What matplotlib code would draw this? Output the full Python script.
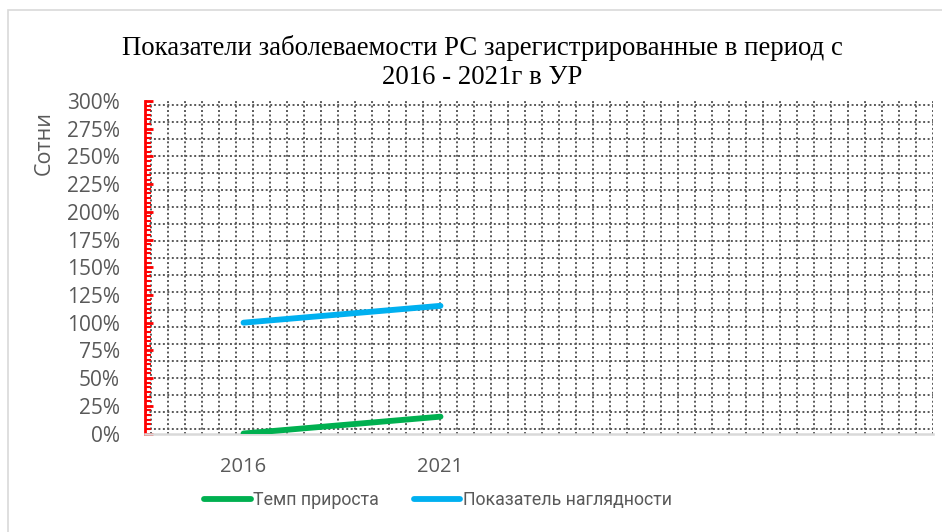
import numpy as np
import matplotlib.pyplot as plt
from matplotlib.patches import Rectangle
from matplotlib.ticker import MultipleLocator, FuncFormatter

years = ['2016', '2021']
growth = [0.0, 15.2]        # Темп прироста, %
visual = [100.0, 115.2]     # Показатель наглядности, %

title = 'Показатели заболеваемости РС зарегистрированные в период с\n2016 - 2021г в УР'
label_color = '#595959'
sans = ['Open Sans', 'DejaVu Sans']

fig = plt.figure(figsize=(9.42, 5.32), dpi=100)
# light frame round the chart area
fig.patches.append(Rectangle((8/942, -0.01), 0.995, 1 - 10/532 + 0.01, transform=fig.transFigure,
                             fill=False, edgecolor='#D9D9D9', lw=1.2))

ax = fig.add_axes([145/942, 1 - 433.5/532, 788/942, 332.5/532])
x = np.arange(len(years))
ax.set_xlim(-0.5, 3.5)
ax.set_ylim(0, 300)

# square dotted grid
gs = dict(color='#595959', lw=1.4, ls=(0, (1, 1.3)), zorder=1)
for gy in np.arange(4.06, 300, 15.4):
    ax.axhline(gy, **gs)
for gx in np.arange(-0.471, 3.5, 0.0863):
    ax.axvline(gx, **gs)

ax.plot(x, growth, color='#00B050', lw=4.2, solid_capstyle='round', zorder=3, label='Темп прироста')
ax.plot(x, visual, color='#00B0F0', lw=4.2, solid_capstyle='round', zorder=3, label='Показатель наглядности')

for s in ['top', 'right']:
    ax.spines[s].set_visible(False)
ax.spines['left'].set_color('red')
ax.spines['left'].set_linewidth(2)
ax.spines['bottom'].set_color('#D9D9D9')
ax.spines['bottom'].set_linewidth(1.8)

ax.yaxis.set_major_locator(MultipleLocator(25))
ax.yaxis.set_minor_locator(MultipleLocator(25/6))
ax.yaxis.set_major_formatter(FuncFormatter(lambda v, p: f'{v:.0f}%'))
ax.tick_params(axis='y', which='major', direction='in', length=6, width=2, color='red',
               labelsize=15, labelcolor=label_color, pad=18)
ax.tick_params(axis='y', which='minor', direction='in', length=4, width=1.5, color='red')
for t in ax.get_yticklabels():
    t.set_family(sans)

ax.set_xticks(x)
ax.set_xticklabels(years, family=sans)
ax.tick_params(axis='x', length=0, labelsize=14.5, labelcolor=label_color, pad=17)

fig.text(44/942, 1 - 143/532, 'Сотни', rotation=90, ha='center', va='center',
         fontsize=15.5, color=label_color, family=sans)
fig.text(482/942, 1 - 62.5/532, title, ha='center', va='center', fontsize=19.3,
         family='Liberation Serif', linespacing=1.2)

leg = fig.legend(loc='center', bbox_to_anchor=(438/942, 1 - 500/532), ncol=2, frameon=False,
                 prop={'family': ['Roboto', 'DejaVu Sans'], 'size': 12.8}, handlelength=2.6,
                 handletextpad=0.12, columnspacing=2.0)
for t in leg.get_texts():
    t.set_color(label_color)

fig.savefig('out.png', dpi=100)
